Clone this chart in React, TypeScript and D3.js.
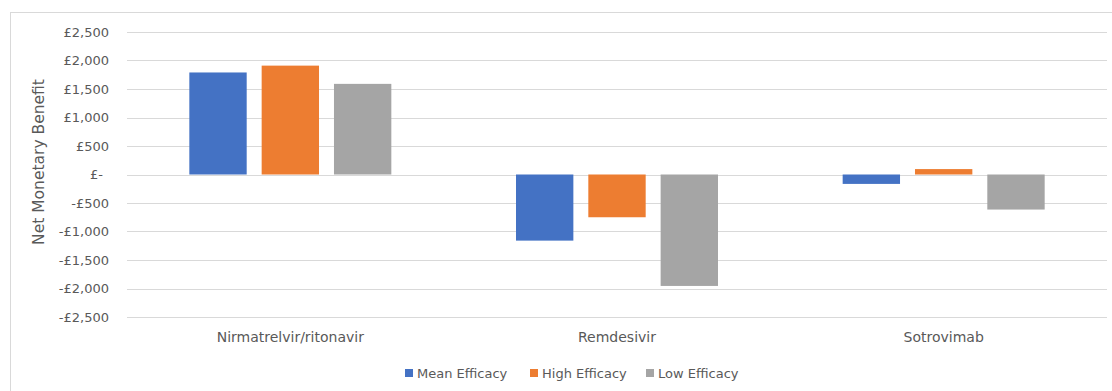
import React from "react";
import * as d3 from "d3";

const categories = ["Nirmatrelvir/ritonavir", "Remdesivir", "Sotrovimab"];
const seriesNames = ["Mean Efficacy", "High Efficacy", "Low Efficacy"];
const meanEfficacy = [1790, -1160, -165];
const highEfficacy = [1910, -750, 95];
const lowEfficacy = [1590, -1955, -615];
const yTicks = [2500, 2000, 1500, 1000, 500, 0, -500, -1000, -1500, -2000, -2500];
const colors = ["#4472C4", "#ED7D31", "#A5A5A5"];

const W = 1112;
const H = 391;
const plot = { left: 127, right: 1107, top: 32, bottom: 317 };
const font = "'DejaVu Sans', 'Open Sans', sans-serif";

function fmt(v: number) {
  if (v === 0) return "£-";
  const s = d3.format(",")(Math.abs(v));
  return (v < 0 ? "-£" : "£") + s;
}

export default function App() {
  const series = [meanEfficacy, highEfficacy, lowEfficacy];
  const y = d3.scaleLinear().domain([-2500, 2500]).range([plot.bottom, plot.top]);
  const x0 = d3.scaleBand().domain(categories).range([plot.left, plot.right]);
  const groupW = 202;
  const x1 = d3
    .scaleBand()
    .domain(seriesNames)
    .range([0, groupW])
    .paddingInner(15 / 72.5);

  const legendX = [405, 530, 646];

  return (
    <svg
      width={W}
      height={H}
      style={{ position: "absolute", left: 0, top: 0, background: "#fff" }}
      fontFamily={font}
    >
      <rect x={10.5} y={12.5} width={W} height={H} fill="#fff" stroke="#d9d9d9" />
      {yTicks.map((t) => (
        <g key={t}>
          <line
            x1={plot.left}
            x2={plot.right}
            y1={Math.round(y(t)) + 0.5}
            y2={Math.round(y(t)) + 0.5}
            stroke="#d9d9d9"
            strokeWidth={1}
          />
          <text
            x={t === 0 ? 103 : 109}
            y={y(t)}
            dy="0.35em"
            textAnchor="end"
            fontSize={13}
            fill="#595959"
          >
            {fmt(t)}
          </text>
        </g>
      ))}
      {categories.map((c, ci) => {
        const gx = (x0(c) as number) + (x0.bandwidth() - groupW) / 2;
        return (
          <g key={c}>
            {series.map((s, si) => {
              const v = s[ci];
              const bx = gx + (x1(seriesNames[si]) as number);
              return (
                <rect
                  key={si}
                  x={bx}
                  y={Math.min(y(v), y(0))}
                  width={x1.bandwidth()}
                  height={Math.abs(y(v) - y(0))}
                  fill={colors[si]}
                />
              );
            })}
            <text
              x={(x0(c) as number) + x0.bandwidth() / 2}
              y={342}
              textAnchor="middle"
              fontSize={14}
              fill="#595959"
            >
              {c}
            </text>
          </g>
        );
      })}
      <text
        transform={`translate(44,162) rotate(-90)`}
        textAnchor="middle"
        fontSize={15.5}
        fill="#595959"
      >
        Net Monetary Benefit
      </text>
      {seriesNames.map((n, i) => (
        <g key={n}>
          <rect x={legendX[i]} y={369} width={8} height={8} fill={colors[i]} />
          <text x={legendX[i] + 12} y={377.5} fontSize={13} fill="#595959">
            {n}
          </text>
        </g>
      ))}
    </svg>
  );
}
